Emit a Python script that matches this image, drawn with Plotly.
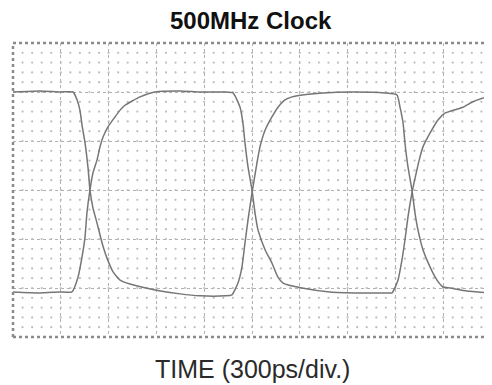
import numpy as np
import plotly.graph_objects as go

# Time axis in ps (300 ps/div, 10 divisions); amplitude in vertical divisions
time_a = [0, 169, 295, 377, 402, 420, 433, 452, 471, 483, 502, 527, 559, 590, 628, 672, 734, 891,
          1048, 1174, 1331, 1374, 1412, 1437, 1456, 1475, 1500, 1531, 1550, 1582, 1625, 1663, 1707,
          1751, 1814, 1946, 2115, 2335, 2410, 2429, 2448, 2460, 2479, 2504, 2523, 2542, 2573, 2617,
          2661, 2699, 2743, 2849, 3000]
level_a = [2.0, 2.02, 2.0, 2.0, 1.84, 1.63, 1.33, 0.96, 0.45, 0.0, -0.37, -0.67, -1.08, -1.39, -1.67,
           -1.84, -1.92, -2.04, -2.12, -2.16, -2.16, -2.14, -1.90, -1.57, -1.08, -0.61, -0.06, 0.55,
           0.88, 1.22, 1.49, 1.69, 1.84, 1.90, 1.94, 1.98, 2.0, 1.98, 1.94, 1.69, 1.37, 0.96, 0.47,
           0.0, -0.47, -0.82, -1.22, -1.57, -1.84, -1.98, -2.0, -2.06, -2.10]

time_b = [0, 169, 295, 370, 408, 433, 452, 464, 483, 502, 527, 546, 565, 596, 640, 672, 703, 797,
          891, 1048, 1174, 1331, 1381, 1425, 1443, 1456, 1475, 1500, 1519, 1538, 1582, 1625, 1663,
          1695, 1814, 1989, 2178, 2347, 2379, 2416, 2441, 2460, 2479, 2504, 2535, 2554, 2573, 2617,
          2667, 2711, 2824, 2887, 2975, 3000]
level_b = [-2.08, -2.10, -2.08, -2.08, -1.78, -1.37, -0.96, -0.47, 0.0, 0.35, 0.61, 0.88, 1.08, 1.29,
           1.49, 1.63, 1.73, 1.90, 2.0, 2.02, 2.0, 2.0, 1.98, 1.69, 1.37, 0.96, 0.47, 0.0, -0.47,
           -0.82, -1.22, -1.49, -1.78, -1.90, -2.0, -2.08, -2.10, -2.10, -2.10, -1.84, -1.43, -1.02,
           -0.55, -0.06, 0.41, 0.67, 0.88, 1.16, 1.43, 1.57, 1.69, 1.80, 1.90, 1.92]

title_text = "500MHz Clock"
xlabel_text = "TIME (300ps/div.)"

X_RANGE = [0, 3000]
Y_RANGE = [-3, 3]

fig = go.Figure()

# graticule dot lattice (1/5 division spacing)
gx, gy = np.meshgrid(np.arange(60, 3000, 60), np.arange(-2.8, 3.0, 0.2))
fig.add_trace(go.Scatter(x=gx.ravel(), y=gy.ravel(), mode="markers",
                         marker=dict(size=2.2, color="#bdbdbd", line=dict(width=0)),
                         hoverinfo="skip", showlegend=False))

trace_style = dict(mode="lines", line=dict(color="#767676", width=1.5, shape="spline", smoothing=0.5),
                   showlegend=False)
fig.add_trace(go.Scatter(x=time_a, y=level_a, **trace_style))
fig.add_trace(go.Scatter(x=time_b, y=level_b, **trace_style))

fig.update_xaxes(range=X_RANGE, tickvals=list(range(300, 3000, 300)), showticklabels=False,
                 showgrid=True, gridcolor="#b0b0b0", gridwidth=1, griddash="dot",
                 zeroline=False, showline=False, ticks="")
fig.update_yaxes(range=Y_RANGE, tickvals=[-2, -1, 0, 1, 2], showticklabels=False,
                 showgrid=True, gridcolor="#b0b0b0", gridwidth=1, griddash="dot",
                 zeroline=False, showline=False, ticks="")

border = dict(color="#8a8a8a", width=2.5, dash="dot")
fig.add_shape(type="line", xref="paper", yref="paper", x0=0, x1=0, y0=0, y1=1, line=border)
fig.add_shape(type="line", xref="paper", yref="paper", x0=0, x1=1, y0=1, y1=1, line=border)
fig.add_shape(type="line", xref="paper", yref="paper", x0=0, x1=1, y0=0, y1=0, line=border)

fig.add_annotation(text="<b>" + title_text + "</b>", xref="paper", yref="paper", x=0.498, y=1,
                   yshift=23, xanchor="center", yanchor="middle", showarrow=False,
                   font=dict(family="Liberation Sans, Arial", size=24, color="#111111"))
fig.add_annotation(text=xlabel_text, xref="paper", yref="paper", x=0.502, y=0,
                   yshift=-32, xanchor="center", yanchor="middle", showarrow=False,
                   font=dict(family="Liberation Sans, Arial", size=25, color="#2a2a2a"))

# page body has an 8px default margin, so the figure is sized to fit the 492x385 window
fig.update_layout(width=484, height=377, margin=dict(l=5, r=1, t=35, b=48),
                  paper_bgcolor="white", plot_bgcolor="white")

fig.write_html("out.html")
